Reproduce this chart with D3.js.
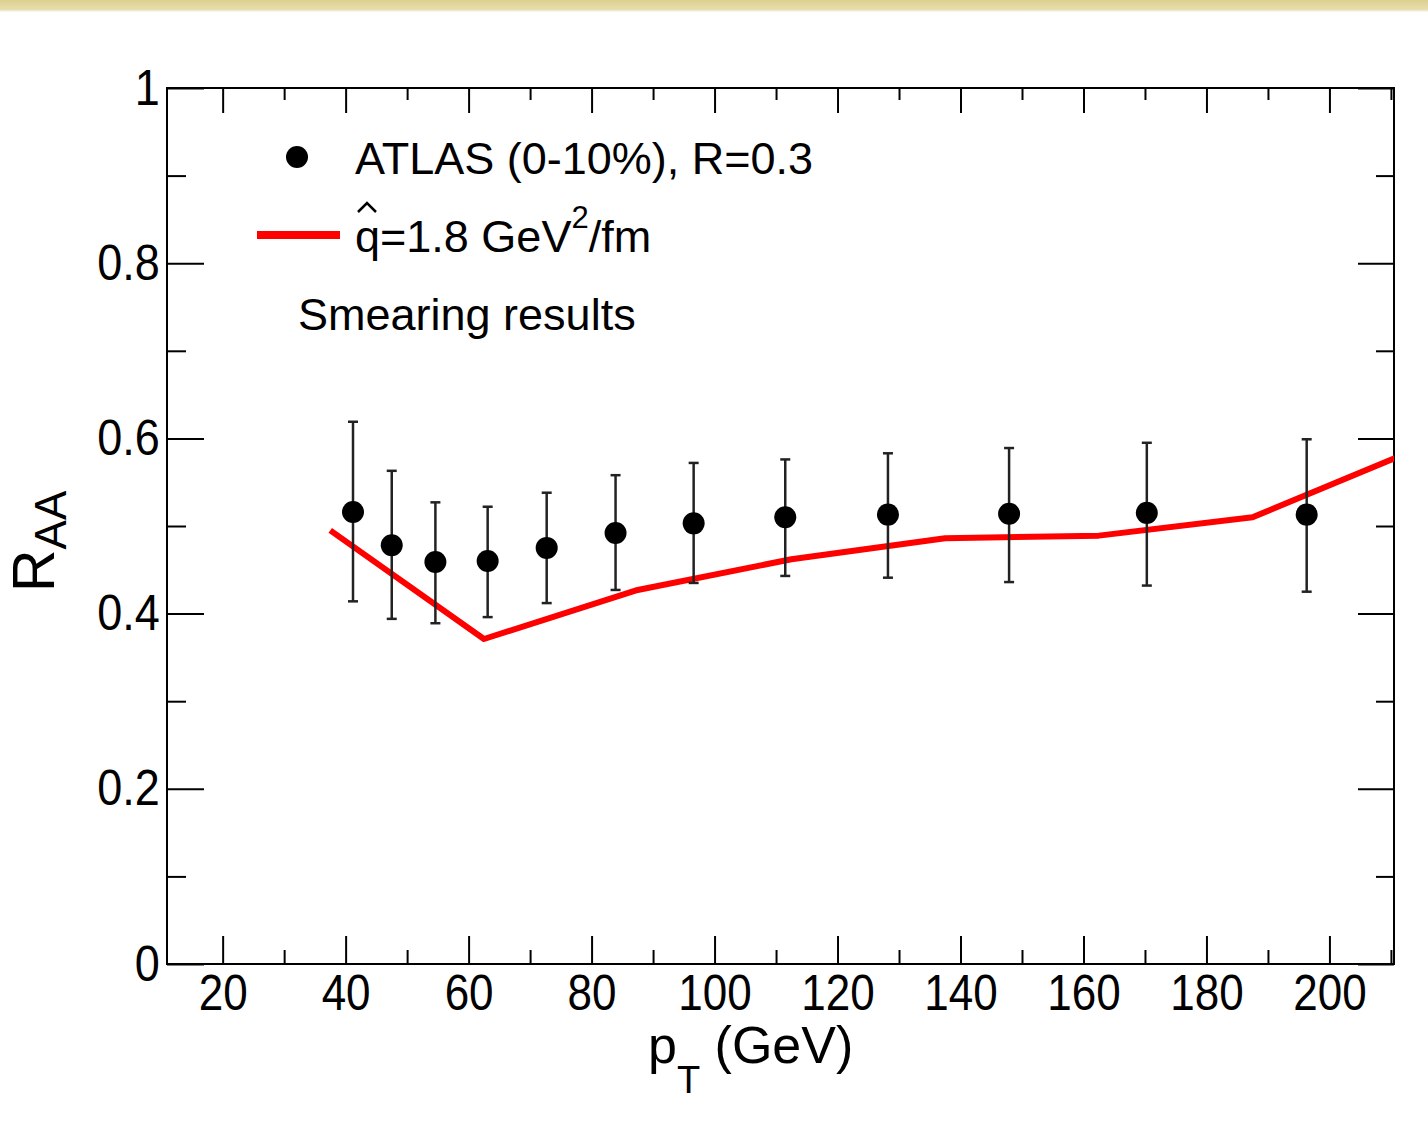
<!DOCTYPE html>
<html lang="en">
	<head>
		<meta charset="UTF-8">
		<title>RAA vs pT</title>
		<style>
			body{margin:0;background:#fff;}
			svg{display:block;font-family:"Liberation Sans",Arial,sans-serif;}
			.axis path{display:none;}
			.axis line{stroke:#000;stroke-width:2;}
			.axis text{font-size:50px;fill:#000;}
		</style>
	</head>
	<body>
	<script type="text/javascript" src="https://cdn.jsdelivr.net/npm/d3@7/dist/d3.min.js"></script>
	<script type="text/javascript">
		// ATLAS points (0-10%), R=0.3
		var ptData  = [41.2, 47.5, 54.6, 63.1, 72.7, 83.9, 96.6, 111.5, 128.2, 147.9, 170.3, 196.3];
		var raaData = [0.516, 0.478, 0.459, 0.460, 0.475, 0.492, 0.503, 0.510, 0.513, 0.514, 0.515, 0.513];
		var raaHigh = [0.619, 0.563, 0.527, 0.522, 0.538, 0.558, 0.572, 0.576, 0.583, 0.589, 0.595, 0.599];
		var raaLow  = [0.414, 0.394, 0.389, 0.396, 0.412, 0.427, 0.435, 0.443, 0.441, 0.436, 0.432, 0.425];
		// smearing curve, qhat=1.8
		var ptModel  = [37.5, 62.5, 87.5, 112.5, 137.5, 162.5, 187.5, 212.5];
		var raaModel = [0.495, 0.371, 0.427, 0.462, 0.486, 0.489, 0.510, 0.583];
		// ticks
		var xMajor = [20, 40, 60, 80, 100, 120, 140, 160, 180, 200];
		var xMinor = [30, 50, 70, 90, 110, 130, 150, 170, 190, 210];
		var yMajor = [0, 0.2, 0.4, 0.6, 0.8, 1];
		var yMinor = [0.1, 0.3, 0.5, 0.7, 0.9];

		var W = 1428, H = 1126;
		var frame = {left:167, right:1394, top:88, bottom:964};

		var x = d3.scaleLinear().domain([10.95, 210.5]).range([frame.left, frame.right]);
		var y = d3.scaleLinear().domain([0, 1]).range([frame.bottom, frame.top]);

		var svg = d3.select("body").append("svg")
			.attr("width", W)
			.attr("height", H);

		// top band
		var defs = svg.append("defs");
		var grad = defs.append("linearGradient")
			.attr("id", "band").attr("x1", 0).attr("y1", 0).attr("x2", 0).attr("y2", 1);
		grad.append("stop").attr("offset", "0%").attr("stop-color", "#dccf8f");
		grad.append("stop").attr("offset", "100%").attr("stop-color", "#e8dfb0");
		svg.append("rect").attr("x", 0).attr("y", 0).attr("width", W).attr("height", 10)
			.attr("fill", "url(#band)");
		svg.append("rect").attr("x", 0).attr("y", 10).attr("width", W).attr("height", 1.5)
			.attr("fill", "#f1ebcd");

		defs.append("clipPath").attr("id", "plotclip")
			.append("rect")
			.attr("x", frame.left).attr("y", frame.top)
			.attr("width", frame.right - frame.left).attr("height", frame.bottom - frame.top);

		// axes: ticks pointing inside
		function fmtY(d){ return (d === 0 || d === 1) ? String(d) : d.toFixed(1); }

		svg.append("g").attr("class", "axis")
			.attr("transform", "translate(0," + frame.bottom + ")")
			.call(d3.axisBottom(x).tickValues(xMajor).tickSize(-28).tickPadding(10))
			.selectAll("text").attr("transform", "scale(0.88,1)");
		svg.append("g").attr("class", "axis")
			.attr("transform", "translate(0," + frame.bottom + ")")
			.call(d3.axisBottom(x).tickValues(xMinor).tickSize(-14).tickFormat(""));
		svg.append("g").attr("class", "axis")
			.attr("transform", "translate(0," + frame.top + ")")
			.call(d3.axisTop(x).tickValues(xMajor).tickSize(-25).tickFormat(""));
		svg.append("g").attr("class", "axis")
			.attr("transform", "translate(0," + frame.top + ")")
			.call(d3.axisTop(x).tickValues(xMinor).tickSize(-12).tickFormat(""));

		svg.append("g").attr("class", "axis")
			.attr("transform", "translate(" + frame.left + ",0)")
			.call(d3.axisLeft(y).tickValues(yMajor).tickSize(-37).tickPadding(8).tickFormat(fmtY))
			.selectAll("text").attr("transform", "scale(0.9,1)");
		svg.append("g").attr("class", "axis")
			.attr("transform", "translate(" + frame.left + ",0)")
			.call(d3.axisLeft(y).tickValues(yMinor).tickSize(-19).tickFormat(""));
		svg.append("g").attr("class", "axis")
			.attr("transform", "translate(" + frame.right + ",0)")
			.call(d3.axisRight(y).tickValues(yMajor).tickSize(-36).tickFormat(""));
		svg.append("g").attr("class", "axis")
			.attr("transform", "translate(" + frame.right + ",0)")
			.call(d3.axisRight(y).tickValues(yMinor).tickSize(-18).tickFormat(""));

		// frame
		svg.append("rect")
			.attr("x", frame.left).attr("y", frame.top)
			.attr("width", frame.right - frame.left).attr("height", frame.bottom - frame.top)
			.attr("fill", "none").attr("stroke", "#000").attr("stroke-width", 2);

		// model line
		var modelPts = ptModel.map(function(p, i){ return [p, raaModel[i]]; });
		var line = d3.line()
			.x(function(d){ return x(d[0]); })
			.y(function(d){ return y(d[1]); });
		svg.append("path")
			.datum(modelPts)
			.attr("clip-path", "url(#plotclip)")
			.attr("d", line)
			.attr("fill", "none")
			.attr("stroke", "#ff0000")
			.attr("stroke-width", 6)
			.attr("stroke-linejoin", "round");

		// data points with error bars
		var pts = ptData.map(function(p, i){
			return {pt:p, v:raaData[i], hi:raaHigh[i], lo:raaLow[i]};
		});
		var g = svg.append("g").selectAll("g").data(pts).enter().append("g");
		g.append("line")
			.attr("x1", function(d){ return x(d.pt); })
			.attr("x2", function(d){ return x(d.pt); })
			.attr("y1", function(d){ return y(d.hi); })
			.attr("y2", function(d){ return y(d.lo); })
			.attr("stroke", "#222").attr("stroke-width", 2.5);
		g.append("line")
			.attr("x1", function(d){ return x(d.pt) - 5; })
			.attr("x2", function(d){ return x(d.pt) + 5; })
			.attr("y1", function(d){ return y(d.hi); })
			.attr("y2", function(d){ return y(d.hi); })
			.attr("stroke", "#222").attr("stroke-width", 2.5);
		g.append("line")
			.attr("x1", function(d){ return x(d.pt) - 5; })
			.attr("x2", function(d){ return x(d.pt) + 5; })
			.attr("y1", function(d){ return y(d.lo); })
			.attr("y2", function(d){ return y(d.lo); })
			.attr("stroke", "#222").attr("stroke-width", 2.5);
		g.append("circle")
			.attr("cx", function(d){ return x(d.pt); })
			.attr("cy", function(d){ return y(d.v); })
			.attr("r", 11)
			.attr("fill", "#000");

		// legend
		svg.append("circle").attr("cx", 297).attr("cy", 157).attr("r", 11).attr("fill", "#000");
		svg.append("text").attr("x", 355).attr("y", 174)
			.style("font-size", "45px")
			.text("ATLAS (0-10%), R=0.3");

		svg.append("line").attr("x1", 257).attr("x2", 340).attr("y1", 235).attr("y2", 235)
			.attr("stroke", "#ff0000").attr("stroke-width", 8);
		var qt = svg.append("text").attr("x", 355).attr("y", 252).style("font-size", "45px");
		qt.append("tspan").text("q=1.8 GeV");
		qt.append("tspan").attr("dy", -24).style("font-size", "31px").text("2");
		qt.append("tspan").attr("dy", 24).text("/fm");
		// hat over q
		svg.append("path")
			.attr("d", "M358,212 L367,203 L376,212")
			.attr("fill", "none").attr("stroke", "#000").attr("stroke-width", 2.5);

		svg.append("text").attr("x", 298).attr("y", 330)
			.style("font-size", "45px")
			.text("Smearing results");

		// axis titles
		var xt = svg.append("text").attr("x", 648).attr("y", 1063).style("font-size", "52px");
		xt.append("tspan").text("p");
		xt.append("tspan").attr("dy", 30).style("font-size", "38px").text("T");
		xt.append("tspan").attr("dy", -30).text(" (GeV)");

		var yt = svg.append("text")
			.attr("transform", "translate(54,592) rotate(-90)")
			.style("font-size", "59px");
		yt.append("tspan").text("R");
		yt.append("tspan").attr("dy", 12).style("font-size", "44px").text("AA");
	</script>
	</body>
</html>
